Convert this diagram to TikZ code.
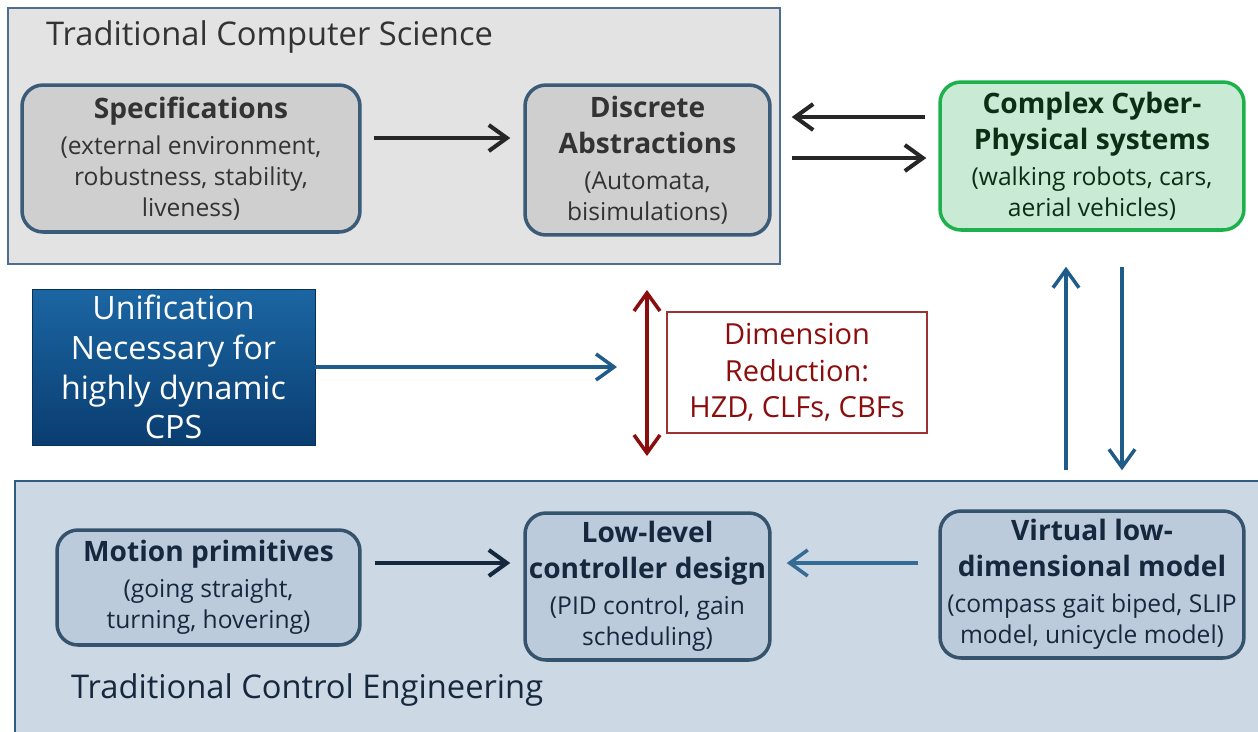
\documentclass[tikz,border=0pt]{standalone}
\usepackage{fontspec}
\setmainfont{Open Sans}
\usetikzlibrary{positioning, arrows.meta, calc}

\definecolor{csframe}{HTML}{E3E3E3}
\definecolor{csedge}{HTML}{4E6E8E}
\definecolor{csbox}{HTML}{CFCFCF}
\definecolor{boxedge}{HTML}{3B5C78}
\definecolor{cstext}{HTML}{333333}
\definecolor{cpsfill}{HTML}{C9EBD6}
\definecolor{cpsedge}{HTML}{1DB04B}
\definecolor{cpstext}{HTML}{0B2E15}
\definecolor{ceframe}{HTML}{CDD8E5}
\definecolor{ceedge}{HTML}{2E5C82}
\definecolor{cebox}{HTML}{BCCBDC}
\definecolor{cetext}{HTML}{16283D}
\definecolor{unitop}{HTML}{1B66A3}
\definecolor{unibot}{HTML}{0A3D70}
\definecolor{flowblue}{HTML}{1F5C8A}
\definecolor{dimred}{HTML}{8B0E0E}

\newcommand{\hd}[1]{{\fontsize{16}{19}\selectfont\bfseries #1}}

\begin{document}
\begin{tikzpicture}[
    x=0.02cm, y=-0.02cm,
    >={Straight Barb[length=0.36cm, width=0.52cm]},
    every node/.style={font=\fontsize{14}{17.6}\selectfont},
    stage/.style={rectangle, rounded corners=0.42cm, line width=2pt, align=center, inner sep=0pt},
    csstage/.style={stage, fill=csbox, draw=boxedge, text=cstext},
    cestage/.style={stage, fill=cebox, draw=boxedge!90!black, text=cetext},
    darkflow/.style={->, line width=2.3pt, draw=black!85},
    blueflow/.style={->, line width=2pt, draw=flowblue},
    frametitle/.style={anchor=west, font=\fontsize{18.6}{22}\selectfont}
]
   \clip (0,0) rectangle (1258,731);
   \fill[white] (0,0) rectangle (1258,731);

   % Frames
   \draw[fill=csframe, draw=csedge, line width=0.9pt] (8,8) rectangle (780,264);
   \node[frametitle, text=cstext] (cstitle) at (40,37) {Traditional Computer Science};
   \draw[fill=ceframe, draw=ceedge, line width=0.9pt] (15,481) rectangle (1275,745);
   \node[frametitle, text=cetext] (cetitle) at (65,690) {Traditional Control Engineering};

   % Stages
   \node[csstage, minimum width=6.76cm, minimum height=2.94cm] (spec) at (191,158.5)
        {\hd{Specifications}\\[3pt](external environment,\\robustness, stability,\\liveness)};
   \node[csstage, minimum width=4.9cm, minimum height=3cm] (disc) at (647.5,160)
        {\hd{Discrete}\\[3pt]\hd{Abstractions}\\[3pt](Automata,\\bisimulations)};
   \node[stage, fill=cpsfill, draw=cpsedge, text=cpstext, minimum width=6.08cm, minimum height=2.96cm] (cps) at (1092,156)
        {\hd{Complex Cyber-}\\[3pt]\hd{Physical systems}\\[3pt](walking robots, cars,\\aerial vehicles)};
   \node[cestage, minimum width=6.06cm, minimum height=2.3cm] (motion) at (208.5,587.5)
        {\hd{Motion primitives}\\[3pt](going straight,\\turning, hovering)};
   \node[cestage, minimum width=4.9cm, minimum height=2.94cm] (lowlvl) at (647.5,586.5)
        {\hd{Low-level}\\[3pt]\hd{controller design}\\[3pt](PID control, gain\\scheduling)};
   \node[cestage, minimum width=6.08cm, minimum height=2.94cm] (virt) at (1092,584.5)
        {\hd{Virtual low-}\\[3pt]\hd{dimensional model}\\[3pt](compass gait biped, SLIP\\model, unicycle model)};

   % Unification and dimension reduction
   \node[rectangle, top color=unitop, bottom color=unibot, draw=unibot!80!black, text=white, align=center,
         minimum width=5.66cm, minimum height=3.12cm, inner sep=0pt,
         font=\fontsize{18.3}{22.7}\selectfont] (unif) at (173.5,367)
        {Unification\\Necessary for\\highly dynamic\\CPS};
   \node[rectangle, fill=white, draw=dimred!85, line width=0.8pt, text=dimred, align=center,
         minimum width=5.2cm, minimum height=2.42cm, inner sep=0pt,
         font=\fontsize{16.5}{20.8}\selectfont] (dimbox) at (797,372.5)
        {Dimension\\Reduction:\\HZD, CLFs, CBFs};
   \coordinate (rtop) at (647,290);
   \coordinate (rbot) at (647,456);

   % Connectors
   \draw[darkflow, shorten <=0.24cm, shorten >=0.26cm]
        ([yshift=0.41cm]spec.east) -- ([yshift=0.41cm]spec.east -| disc.west);
   \draw[darkflow, shorten <=0.26cm, shorten >=0.4cm]
        ([yshift=0.78cm]cps.west) -- ([yshift=0.78cm]cps.west -| disc.east);
   \draw[darkflow, shorten <=0.4cm, shorten >=0.24cm]
        ([yshift=0.04cm]disc.east) -- ([yshift=0.04cm]disc.east -| cps.west);
   \draw[blueflow, shorten >=0.6cm] (unif.east) -- (unif.east -| rtop);
   \draw[<->, line width=2pt, draw=dimred] (rtop) -- (rbot);
   \draw[blueflow, shorten <=0.78cm, shorten >=0.7cm]
        ([xshift=-0.52cm]virt.north) -- ([xshift=-0.52cm]virt.north |- cps.south);
   \draw[blueflow, shorten <=0.7cm, shorten >=0.78cm]
        ([xshift=0.6cm]cps.south) -- ([xshift=0.6cm]cps.south |- virt.north);
   \draw[darkflow, draw=cetext, shorten <=0.26cm, shorten >=0.26cm]
        ([yshift=0.49cm]motion.east) -- ([yshift=0.49cm]motion.east -| lowlvl.west);
   \draw[blueflow, draw=flowblue!90!white, shorten <=0.4cm, shorten >=0.3cm]
        ([yshift=0.43cm]virt.west) -- ([yshift=0.43cm]virt.west -| lowlvl.east);

\end{tikzpicture}
\end{document}
